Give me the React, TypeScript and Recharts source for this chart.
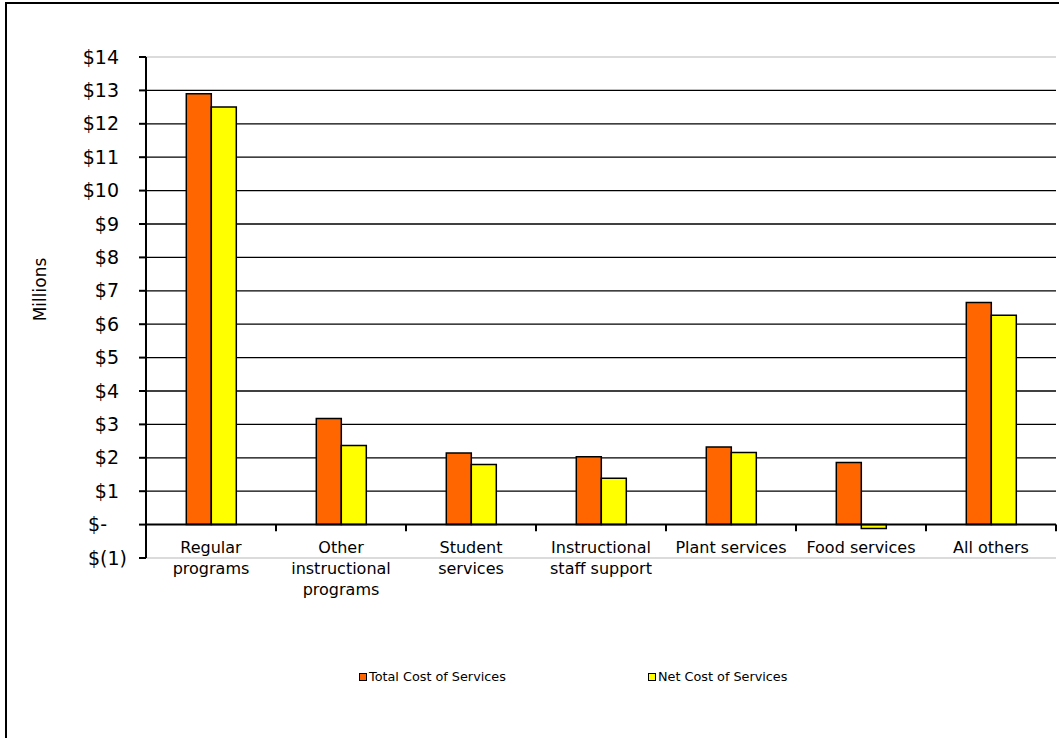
import React from 'react';
import { BarChart, Bar, XAxis, YAxis, CartesianGrid, ReferenceLine, Text } from 'recharts';

const categories = [
  'Regular programs',
  'Other instructional programs',
  'Student services',
  'Instructional staff support',
  'Plant services',
  'Food services',
  'All others',
];
const totalCost = [12.9, 3.18, 2.14, 2.03, 2.32, 1.86, 6.65];
const netCost = [12.5, 2.37, 1.8, 1.39, 2.16, -0.12, 6.27];
const yTicks = [-1, 0, 1, 2, 3, 4, 5, 6, 7, 8, 9, 10, 11, 12, 13, 14];
const seriesNames = ['Total Cost of Services', 'Net Cost of Services'];
const seriesColors = ['#FF6600', '#FFFF00'];

const data = categories.map((name, i) => ({ name, total: totalCost[i], net: netCost[i] }));

const FONT = '"DejaVu Sans", sans-serif';

const money = (v: number) => (v === 0 ? '$-' : v < 0 ? `$(${-v})` : `$${v}`);

const YTick = (props: any) => {
  const { x, y, payload } = props;
  const v = payload.value;
  const dx = v < 0 ? 8 : v === 0 ? -12 : 0;
  return (
    <text x={x + dx} y={y} dy="0.35em" textAnchor="end" fontSize={19} fontFamily={FONT} fill="#000">
      {money(v)}
    </text>
  );
};

const XTick = (props: any) => {
  const { x, y, payload } = props;
  return (
    <Text
      x={x}
      y={y - 16}
      width={118}
      textAnchor="middle"
      verticalAnchor="start"
      lineHeight={21}
      fontSize={16}
      fontFamily={FONT}
      style={{ fontSize: 16, fontFamily: FONT }}
      fill="#000"
    >
      {payload.value}
    </Text>
  );
};

const MillionsLabel = (props: any) => {
  const vb = props.viewBox || {};
  const cx = (vb.x ?? 0) + 40;
  const cy = (vb.y ?? 0) + (vb.height ?? 0) / 2 - 18;
  return (
    <text
      x={cx}
      y={cy}
      transform={`rotate(-90 ${cx} ${cy})`}
      textAnchor="middle"
      dominantBaseline="central"
      fontSize={17}
      fontFamily={FONT}
      fill="#000"
    >
      Millions
    </text>
  );
};

export default function App() {
  return (
    <div style={{ position: 'absolute', left: 0, top: 0, width: 1059, height: 738, overflow: 'hidden', background: '#fff' }}>
      <div
        style={{
          position: 'absolute',
          left: 5,
          top: 2,
          width: 1100,
          height: 800,
          borderLeft: '2px solid #000',
          borderTop: '2px solid #000',
        }}
      />
      <div style={{ position: 'absolute', left: 0, top: 0 }}>
        <BarChart
          width={1059}
          height={738}
          data={data}
          margin={{ top: 57, right: 3, left: 0, bottom: 120 }}
          barGap={0}
          barCategoryGap="31%"
        >
          <CartesianGrid vertical={false} stroke="#000" strokeWidth={1.3} horizontalValues={yTicks.filter((t) => t > 0 && t < 14)} />
          <XAxis
            dataKey="name"
            interval={0}
            height={60}
            axisLine={{ stroke: '#cfcfcf', strokeWidth: 1.5 }}
            tickLine={false}
            tickSize={0}
            tickMargin={0}
            tick={<XTick />}
          />
          <YAxis
            domain={[-1, 14]}
            ticks={yTicks}
            interval={0}
            width={146}
            axisLine={{ stroke: '#000', strokeWidth: 2 }}
            tickLine={{ stroke: '#000', strokeWidth: 2 }}
            tickSize={7}
            tickMargin={20}
            tick={<YTick />}
            label={<MillionsLabel />}
          />
          <ReferenceLine y={14} stroke="#cfcfcf" strokeWidth={1.5} />
          <Bar dataKey="total" name={seriesNames[0]} fill={seriesColors[0]} stroke="#000" strokeWidth={1.5} isAnimationActive={false} />
          <Bar dataKey="net" name={seriesNames[1]} fill={seriesColors[1]} stroke="#000" strokeWidth={1.5} isAnimationActive={false} />
          <ReferenceLine y={0} stroke="#000" strokeWidth={2} />
          {/* small ticks on the zero line at the right edge of each category */}
          {categories.map((c) => (
            <ReferenceLine
              key={c}
              segment={[{ x: c, y: 0 }, { x: c, y: -0.2 }]}
              position="end"
              stroke="#000"
              strokeWidth={2}
              ifOverflow="visible"
            />
          ))}
        </BarChart>
      </div>
      <div style={{ position: 'absolute', left: 359, top: 669, display: 'flex', fontFamily: FONT, fontSize: 12.8, color: '#000' }}>
        {seriesNames.map((n, i) => (
          <div key={n} style={{ width: 289, display: 'flex', alignItems: 'center' }}>
            <span
              style={{
                display: 'inline-block',
                width: 6,
                height: 6,
                background: seriesColors[i],
                border: '1.5px solid #000',
                marginRight: 2,
              }}
            />
            <span>{n}</span>
          </div>
        ))}
      </div>
    </div>
  );
}
